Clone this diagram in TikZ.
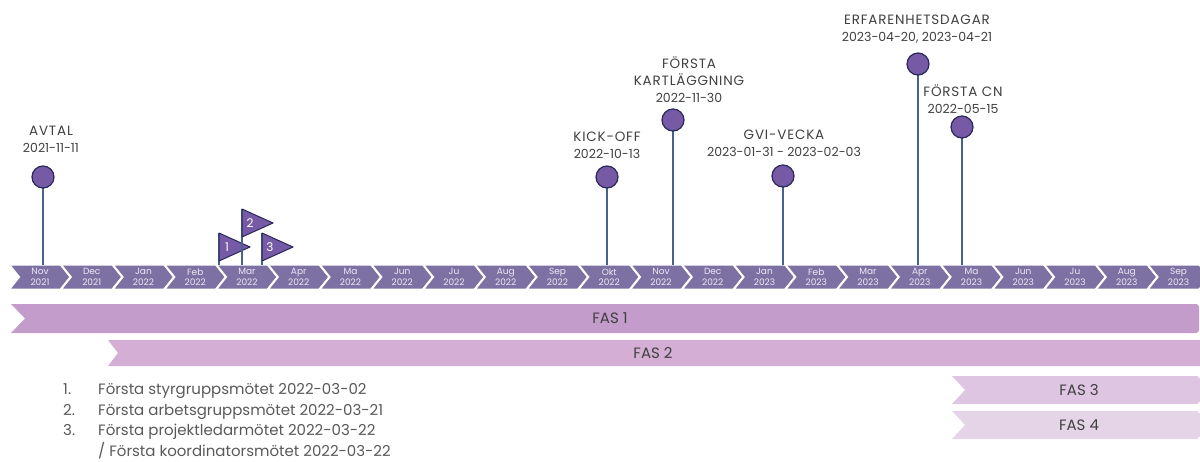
\documentclass[tikz,border=0pt]{standalone}
\usepackage{fontspec}
\setmainfont{Poppins}
\usetikzlibrary{positioning}
\tikzset{>=stealth}

\definecolor{barcol}{RGB}{125,113,163}
\definecolor{pinfill}{RGB}{118,90,166}
\definecolor{pinline}{RGB}{40,40,90}
\definecolor{stemcol}{RGB}{68,98,140}
\definecolor{txtgray}{RGB}{64,64,64}
\definecolor{notegray}{RGB}{89,89,89}
\definecolor{monthtxt}{RGB}{235,232,245}
\definecolor{fasA}{RGB}{196,156,203}
\definecolor{fasB}{RGB}{212,174,212}
\definecolor{fasC}{RGB}{222,197,225}
\definecolor{fasD}{RGB}{229,211,232}

\newcommand\capsline[1]{{\fontsize{13.5}{17}\selectfont\addfontfeature{LetterSpace=6}#1}}

\begin{document}
\begin{tikzpicture}[x=1pt, y=-1pt,
    month/.style={fill=barcol, draw=white, line width=2pt, line join=miter},
    mlbl/.style={align=center, text=monthtxt, inner sep=0pt, font=\fontsize{9}{10.5}\selectfont},
    stem/.style={draw=stemcol, line width=2pt},
    pin/.style={circle, fill=pinfill, draw=pinline, line width=1.2pt, minimum size=22pt, inner sep=0pt},
    lbl/.style={align=center, text=txtgray, inner sep=0pt, font=\fontsize{12.5}{17}\selectfont},
    flagbox/.style={fill=pinfill, draw=pinline, line width=1pt, line join=round},
    flagnum/.style={text=white, inner sep=0pt, font=\fontsize{12}{14}\selectfont},
    faslbl/.style={text=txtgray, inner sep=0pt, font=\fontsize{15}{17}\selectfont}]

    \useasboundingbox (0,0) rectangle (1200,461);
    \coordinate (bar) at (0,265);

    % month chevrons
    \foreach \m/\yr [count=\i from 0] in {Nov/2021, Dec/2021, Jan/2022, Feb/2022, Mar/2022, Apr/2022, Ma/2022, Jun/2022, Ju/2022, Aug/2022, Sep/2022, Okt/2022, Nov/2022, Dec/2022, Jan/2023, Feb/2023, Mar/2023, Apr/2023, Ma/2023, Jun/2023, Ju/2023, Aug/2023, Sep/2023}
    {
        \pgfmathsetmacro\b{9+51.75*\i}
        \path[month] (\b,264.5) -- ++(51.75,0) -- ++(10,12.5) -- ++(-10,12.5) -- ++(-51.75,0) -- ++(10,-12.5) -- cycle;
        \node[mlbl] (m\i) at (\b+31,277) {\m\\\yr};
    }

    % phases
    \fill[fasA] (11,304) -- (1190,304) [rounded corners=3pt] -- (1199,304) -- (1199,333) -- (1190,333) [sharp corners] -- (11,333) -- (25,318.5) -- cycle;
    \fill[fasB] (108,340) -- (1210,340) -- (1210,366) -- (108,366) -- (118,353) -- cycle;
    \fill[fasC] (952,376) -- (1197,376) -- (1211,390) -- (1197,404) -- (952,404) -- (965,390) -- cycle;
    \fill[fasD] (952,411) -- (1197,411) -- (1211,425) -- (1197,439) -- (952,439) -- (965,425) -- cycle;
    \node[faslbl] (fas1) at (610,318.5) {FAS 1};
    \node[faslbl] (fas2) at (653,353) {FAS 2};
    \node[faslbl] (fas3) at (1079,390) {FAS 3};
    \node[faslbl] (fas4) at (1079,425) {FAS 4};

    % flags
    \foreach \n/\x/\y in {1/219/233, 2/242/209, 3/262/233}
    {
        \coordinate (f\n) at (\x,\y);
        \draw[stem] (f\n) -- (f\n |- bar);
        \path[flagbox] (f\n) -- ++(31,14) -- ++(-31,14) -- cycle;
        \node[flagnum] (n\n) at (\x+8,\y+14) {\n};
    }

    % milestones
    \foreach \nm/\x/\y in {avtal/43/177, kickoff/607/177, kartl/673/120, gvi/783/176, erfar/918/64, cn/962/127}
    {
        \draw[stem] (\x,\y) -- (\x,265);
        \node[pin] (\nm) at (\x,\y) {};
    }
    \node[lbl] (avtal-t) at (51,139) {\capsline{AVTAL}\\2021-11-11};
    \node[lbl] (kickoff-t) at (607,145) {\capsline{KICK-OFF}\\2022-10-13};
    \node[lbl] (kartl-t) at (689,80) {\capsline{FÖRSTA}\\\capsline{KARTLÄGGNING}\\2022-11-30};
    \node[lbl] (gvi-t) at (784,143.5) {\capsline{GVI-VECKA}\\2023-01-31 - 2023-02-03};
    \node[lbl] (erfar-t) at (917,29) {\capsline{ERFARENHETSDAGAR}\\2023-04-20, 2023-04-21};
    \node[lbl] (cn-t) at (963,99.5) {\capsline{FÖRSTA CN}\\2022-05-15};

    % notes
    \node[anchor=north west, inner sep=0pt, text=notegray, font=\fontsize{15}{20.5}\selectfont] (notes) at (63,380)
    {\begin{tabular}{@{}p{35pt}@{}l@{}}
        1. & Första styrgruppsmötet 2022-03-02\\
        2. & Första arbetsgruppsmötet 2022-03-21\\
        3. & Första projektledarmötet 2022-03-22\\
           & / Första koordinatorsmötet 2022-03-22
    \end{tabular}};
\end{tikzpicture}
\end{document}
